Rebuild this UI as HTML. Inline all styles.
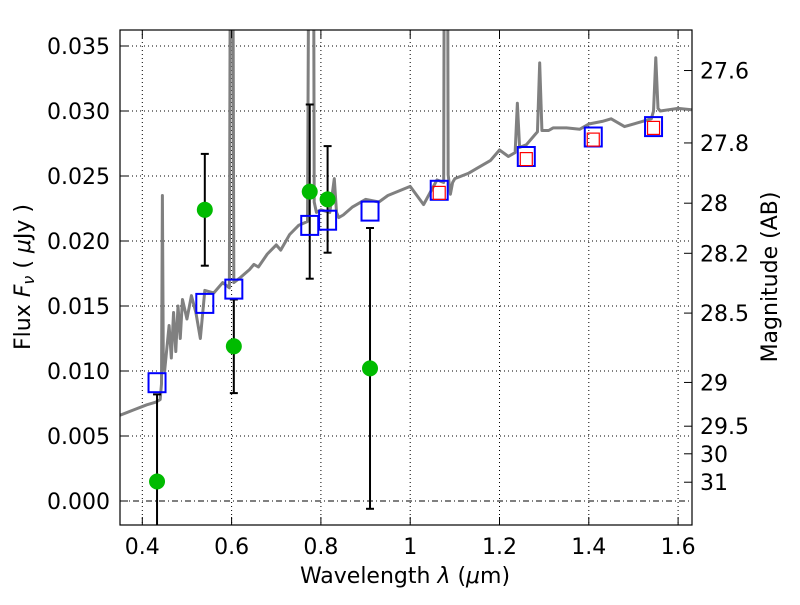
<!DOCTYPE html>
<html><head><meta charset="utf-8"><style>
body{margin:0;background:#fff}
svg text{font-family:"DejaVu Sans","Liberation Sans",sans-serif;fill:#000}
</style></head><body>
<svg id="chart" width="800" height="600" xmlns="http://www.w3.org/2000/svg">
<rect width="800" height="600" fill="#fff"/>
<defs><clipPath id="clip"><rect x="120" y="30" width="572" height="495"/></clipPath></defs>
<g id="grid"></g>
<g id="marks" clip-path="url(#clip)"></g>
<rect x="120" y="30" width="572" height="495" fill="none" stroke="#000" stroke-width="1.2"/>
<g id="ticks"></g>
<text x="405" y="583" font-size="22" text-anchor="middle">Wavelength  <tspan font-style="italic">λ</tspan> (<tspan font-style="italic">μ</tspan>m)</text>
<text transform="translate(30,277) rotate(-90)" font-size="22" text-anchor="middle">Flux  <tspan font-style="italic">F</tspan><tspan font-style="italic" font-size="16" dy="4">ν</tspan><tspan dy="-4">  ( </tspan><tspan font-style="italic">μ</tspan>Jy )</text>
<text transform="translate(777,277) rotate(-90)" font-size="22" text-anchor="middle">Magnitude (AB)</text>
</svg>
<script>
const xTicks=[0.4,0.6,0.8,1.0,1.2,1.4,1.6];
const xTickLabels=["0.4","0.6","0.8","1","1.2","1.4","1.6"];
const yTicks=[0,0.005,0.01,0.015,0.02,0.025,0.03,0.035];
const yTickLabels=["0.000","0.005","0.010","0.015","0.020","0.025","0.030","0.035"];
const magTicks=[27.6,27.8,28,28.2,28.5,29,29.5,30,31];
const magTickLabels=["27.6","27.8","28","28.2","28.5","29","29.5","30","31"];
const specWave=[0.35,0.38,0.41,0.43,0.44,0.443,0.445,0.447,0.45,0.46,0.465,0.47,0.475,0.48,0.485,0.49,0.5,0.51,0.52,0.53,0.54,0.56,0.58,0.595,0.6,0.605,0.62,0.64,0.65,0.66,0.68,0.7,0.71,0.73,0.75,0.77,0.775,0.78,0.785,0.79,0.8,0.82,0.83,0.835,0.84,0.85,0.87,0.9,0.93,0.95,1.0,1.03,1.06,1.075,1.08,1.085,1.09,1.095,1.1,1.13,1.15,1.18,1.2,1.22,1.235,1.24,1.245,1.26,1.28,1.285,1.29,1.295,1.31,1.32,1.35,1.38,1.4,1.43,1.45,1.48,1.52,1.54,1.545,1.55,1.555,1.56,1.6,1.63];
const specFlux=[0.0066,0.0070,0.0074,0.0076,0.0078,0.0090,0.0235,0.0110,0.0100,0.0135,0.0110,0.0145,0.0115,0.0150,0.0125,0.0155,0.0140,0.0158,0.0145,0.0125,0.0162,0.0160,0.0168,0.0164,0.0800,0.0168,0.0172,0.0178,0.0182,0.0180,0.0190,0.0197,0.0193,0.0205,0.0212,0.0215,0.0600,0.1000,0.0230,0.0222,0.0224,0.0222,0.0248,0.0222,0.0218,0.0220,0.0226,0.0232,0.0230,0.0235,0.0242,0.0228,0.0247,0.0245,0.1000,0.0251,0.0236,0.0245,0.0248,0.0252,0.0256,0.0262,0.0270,0.0265,0.0268,0.0306,0.0272,0.0274,0.0282,0.0284,0.0337,0.0285,0.0285,0.0287,0.0287,0.0286,0.0290,0.0292,0.0294,0.0288,0.0292,0.0294,0.0300,0.0341,0.0302,0.0300,0.0302,0.0301];
const obsWave=[0.433,0.54,0.605,0.775,0.815,0.91];
const obsFlux=[0.0015,0.0224,0.0119,0.0238,0.0232,0.0102];
const obsErr=[0.0067,0.0043,0.0036,0.0067,0.0041,0.0108];
const modelWave=[0.433,0.54,0.605,0.775,0.815,0.91,1.065,1.26,1.41,1.545];
const modelFlux=[0.0091,0.0152,0.0163,0.0212,0.0216,0.0223,0.0239,0.0265,0.0280,0.0288];
const synthWave=[1.065,1.26,1.41,1.545];
const synthFlux=[0.0237,0.0263,0.0278,0.0287];

const NS="http://www.w3.org/2000/svg";
const X=l=>142.3+(l-0.4)*446.5;
const Y=f=>501-f*13000;
const magToFlux=m=>Math.pow(10,(23.9-m)/2.5);
function mk(tag,attrs,parent){const e=document.createElementNS(NS,tag);for(const k in attrs)e.setAttribute(k,attrs[k]);parent.appendChild(e);return e;}
const grid=document.getElementById('grid'),marks=document.getElementById('marks'),ticks=document.getElementById('ticks');
xTicks.forEach((t,i)=>{
  const g=mk('line',{x1:X(t),x2:X(t),y1:30,y2:525,stroke:'#000','stroke-width':1,'stroke-dasharray':'1,3'},grid);
  
  
  mk('line',{x1:X(t),x2:X(t),y1:525,y2:517,stroke:'#000'},ticks);
  mk('line',{x1:X(t),x2:X(t),y1:30,y2:38,stroke:'#000'},ticks);
  const tx=mk('text',{x:X(t),y:554,'font-size':22,'text-anchor':'middle'},ticks);
  tx.textContent=xTickLabels[i];
  
  
});
yTicks.forEach((t,i)=>{
  const g=mk('line',{x1:120,x2:692,y1:Y(t),y2:Y(t),stroke:'#000','stroke-width':1,'stroke-dasharray':t===0?'6,3,1,3':'1,3'},grid);
  
  
  mk('line',{x1:120,x2:128,y1:Y(t),y2:Y(t),stroke:'#000'},ticks);
  const tx=mk('text',{x:110,y:Y(t)+8,'font-size':22,'text-anchor':'end'},ticks);
  tx.textContent=yTickLabels[i];
  
  
});
magTicks.forEach((m,i)=>{
  const y=Y(magToFlux(m));
  mk('line',{x1:684,x2:692,y1:y,y2:y,stroke:'#000'},ticks);
  const tx=mk('text',{x:700,y:y+8,'font-size':22},ticks);
  tx.textContent=magTickLabels[i];
  
  
});
const spec=mk('polyline',{points:specWave.map((l,i)=>X(l)+','+Y(specFlux[i])).join(' '),fill:'none',stroke:'#808080','stroke-width':3,'stroke-linejoin':'round'},marks);


obsWave.forEach((l,i)=>{
  const x=X(l),y1=Y(obsFlux[i]+obsErr[i]),y2=Y(obsFlux[i]-obsErr[i]);
  const e=mk('g',{stroke:'#000','stroke-width':2},marks);
  
  
  mk('line',{x1:x,x2:x,y1:y1,y2:y2},e);
  mk('line',{x1:x-4,x2:x+4,y1:y1,y2:y1},e);
  mk('line',{x1:x-4,x2:x+4,y1:y2,y2:y2},e);
});
modelWave.forEach((l,i)=>{
  const r=mk('rect',{x:X(l)-8.5,y:Y(modelFlux[i])-9.5,width:17,height:19,fill:'none',stroke:'#0000ff','stroke-width':2},marks);
  
  
});
synthWave.forEach((l,i)=>{
  const r=mk('rect',{x:X(l)-6,y:Y(synthFlux[i])-6.5,width:12,height:13,fill:'none',stroke:'#ff0000','stroke-width':1.2},marks);
  
  
});
obsWave.forEach((l,i)=>{
  const c=mk('circle',{cx:X(l),cy:Y(obsFlux[i]),r:8,fill:'#00bb00'},marks);
  
  
});
</script>
</body></html>
